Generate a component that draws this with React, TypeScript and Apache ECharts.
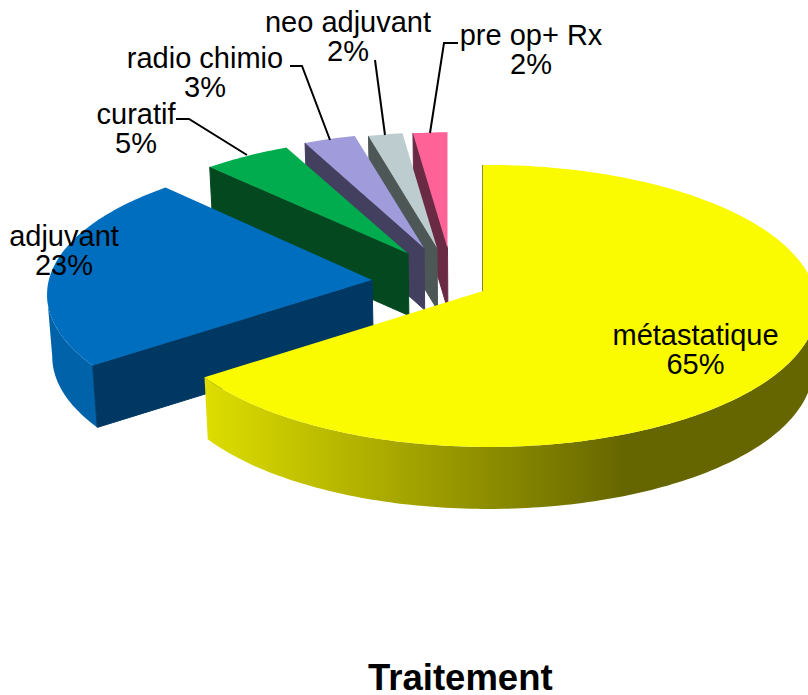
import React, { useEffect, useRef } from "react";
import * as echarts from "echarts";

const categories = ["métastatique", "adjuvant", "curatif", "radio chimio", "neo adjuvant", "pre op+ Rx"];
const percents = [65, 23, 5, 3, 2, 2];
const topColors = ["#FBFB00", "#006EBE", "#00AC4E", "#A09BDA", "#BCCCCF", "#FF6296"];
const sideColors = ["#666600", "#003864", "#04481F", "#423F5F", "#4D5755", "#6B2A44"];

// exploded position and projected radii of each slice
const apexX = [483, 372, 408, 424, 437, 447.5];
const apexY = [291, 280, 253.5, 248, 248, 248];
const radiusX = [327, 328, 315, 308, 305, 305];
const radiusY = [139.4, 138, 129, 128, 128, 128];
const DEPTH = 62;
const PERSP_V = 0.106;
const PERSP_U = -0.015;
const VANISH_X = 480;
const CONVERGE = 0.012;

// label centre, block middle
const labelX = [695.5, 64, 136, 205, 348, 531];
const labelY = [349, 250, 128, 72, 36, 49];
const leaders = [
  [[458, 43], [444, 43], [430, 133]],
  [[375, 60], [385, 135]],
  [[290, 66], [302, 66], [330, 140]],
  [[176, 119], [189, 119], [247, 155]],
];

const FONT = '"Liberation Sans", Arial, sans-serif';
const total = percents.reduce((a, b) => a + b, 0);
// Angles at which the projected outline turns back: the rim is visible between them
const RIM_FROM = (Math.acos(-PERSP_V) * 180) / Math.PI;
const RIM_TO = 360 - RIM_FROM;

function project(i: number, deg: number): number[] {
  const t = (deg * Math.PI) / 180;
  const u = Math.sin(t);
  const v = Math.cos(t);
  const den = 1 + PERSP_V * v + PERSP_U * u;
  return [apexX[i] + (radiusX[i] * u) / den, apexY[i] - (radiusY[i] * v) / den];
}

function arc(i: number, a: number, b: number): number[][] {
  const n = Math.max(2, Math.ceil(Math.abs(b - a)));
  const pts: number[][] = [];
  for (let k = 0; k <= n; k++) pts.push(project(i, a + ((b - a) * k) / n));
  return pts;
}

function rimFill(i: number): any {
  if (i === 0) {
    return new echarts.graphic.LinearGradient(
      203, 0, 625, 0,
      [
        { offset: 0, color: "#DEDE00" },
        { offset: 0.35, color: "#B4B400" },
        { offset: 0.7, color: "#8A8A00" },
        { offset: 1, color: "#666600" },
      ],
      true
    );
  }
  if (i === 1) return "#0062A8";
  return sideColors[i];
}

function renderItem(params: any, api: any): any {
  const i: number = params.dataIndex;
  const value: number = api.value(0);
  let before = 0;
  for (let k = 0; k < i; k++) before += percents[k];
  const start = (before / total) * 360;
  const end = start + (value / total) * 360;
  const z = 10 * (percents.length - i);
  const children: any[] = [];
  const apex = [apexX[i], apexY[i]];
  const down = (p: number[]) => [p[0] + (VANISH_X - p[0]) * CONVERGE, p[1] + DEPTH];

  // Outer rim, only where it faces the viewer
  const ra = Math.max(start, RIM_FROM);
  const rb = Math.min(end, RIM_TO);
  if (rb > ra) {
    const top = arc(i, ra, rb);
    children.push({
      type: "polygon",
      z2: z,
      shape: { points: [...top, ...top.slice().reverse().map(down)] },
      style: { fill: rimFill(i) },
    });
  }
  // Radial face at the slice's first edge
  const tip = project(i, start);
  children.push({
    type: "polygon",
    z2: z + 1,
    shape: { points: [tip, apex, down(apex), down(tip)] },
    style: { fill: sideColors[i], stroke: sideColors[i], lineWidth: 1 },
  });
  // Top face
  children.push({
    type: "polygon",
    z2: z + 2,
    shape: { points: [apex, ...arc(i, start, end)] },
    style: { fill: topColors[i] },
  });
  return { type: "group", children };
}

export default function App() {
  const ref = useRef<HTMLDivElement>(null);
  useEffect(() => {
    const chart = echarts.init(ref.current!, undefined, { renderer: "svg" });
    chart.setOption({
      animation: false,
      backgroundColor: "#ffffff",
      title: {
        text: "Traitement",
        left: 368,
        top: 660,
        padding: 0,
        textStyle: { fontFamily: FONT, fontSize: 36.5, lineHeight: 34, fontWeight: "bold", color: "#000000" },
      },
      series: [
        {
          type: "custom",
          coordinateSystem: "none",
          renderItem,
          silent: true,
          z: 1,
          data: percents.map((p) => [p]),
        },
      ],
      graphic: {
        elements: [
          ...leaders.map((points) => ({
            type: "polyline",
            silent: true,
            z: 5,
            shape: { points },
            style: { fill: "none", stroke: "#000000", lineWidth: 2 },
          })),
          ...categories.map((name, i) => ({
            type: "text",
            silent: true,
            z: 6,
            x: labelX[i],
            y: labelY[i],
            style: {
              text: `${name}\n${percents[i]}%`,
              fontFamily: FONT,
              fontSize: 29,
              lineHeight: 29,
              fill: "#000000",
              align: "center",
              verticalAlign: "middle",
            },
          })),
        ],
      },
    });
    return () => chart.dispose();
  }, []);
  return <div ref={ref} style={{ position: "absolute", left: 0, top: 0, width: 808, height: 695 }} />;
}
